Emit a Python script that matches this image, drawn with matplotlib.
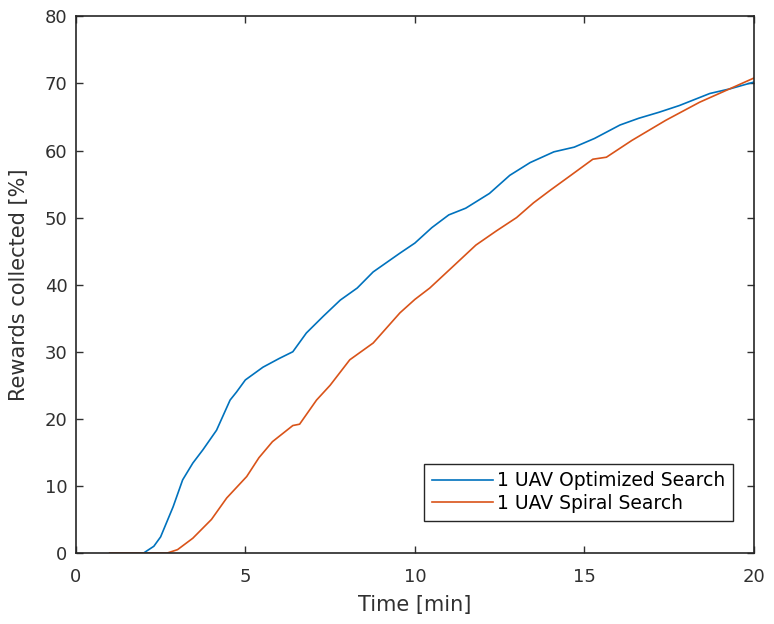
import numpy as np
import matplotlib.pyplot as plt

# values
t_opt = [1, 2, 2.3, 2.5, 2.87, 3.15, 3.45, 3.75, 4.15, 4.55, 4.74, 5.0, 5.52, 6.0, 6.4, 6.8,
         7.3, 7.8, 8.3, 8.77, 9.56, 10.0, 10.5, 11.0, 11.5, 12.2, 12.8, 13.4, 14.1, 14.7,
         15.3, 16.05, 16.6, 17.2, 17.8, 18.7, 19.3, 20.0]
opt = [0, 0, 1, 2.4, 6.9, 10.9, 13.4, 15.4, 18.3, 22.8, 24, 25.8, 27.7, 29, 30, 32.8,
       35.3, 37.7, 39.5, 41.9, 44.7, 46.2, 48.5, 50.4, 51.4, 53.6, 56.3, 58.2, 59.8, 60.5,
       61.8, 63.8, 64.8, 65.7, 66.7, 68.5, 69.2, 70.2]

t_spi = [1, 2.7, 3.0, 3.45, 4.0, 4.45, 5.04, 5.4, 5.8, 6.4, 6.6, 7.1, 7.5, 8.08, 8.77,
         9.56, 10.0, 10.44, 11.1, 11.8, 12.4, 13.0, 13.5, 14.0, 14.6, 15.25, 15.65, 16.4,
         17.4, 18.4, 19.2, 20.0]
spi = [0, 0, 0.5, 2.2, 5.0, 8.2, 11.4, 14.2, 16.6, 19.0, 19.2, 22.8, 25.0, 28.8, 31.3,
       35.8, 37.8, 39.5, 42.6, 45.9, 48.0, 50.0, 52.2, 54.1, 56.3, 58.7, 59.0, 61.5,
       64.5, 67.2, 69.0, 70.8]

plt.rcParams['font.family'] = 'DejaVu Sans'
fig = plt.figure(figsize=(7.74, 6.24), dpi=100)
ax = fig.add_axes([0.098, 0.1138, 0.876, 0.86])

ax.plot(t_opt, opt, color='#0072BD', lw=1.2, label='1 UAV Optimized Search')
ax.plot(t_spi, spi, color='#D95319', lw=1.2, label='1 UAV Spiral Search')

ax.set_xlim(0, 20)
ax.set_ylim(0, 80)
ax.set_xticks([0, 5, 10, 15, 20])
ax.set_yticks(range(0, 81, 10))
ax.tick_params(direction='in', top=True, right=True, length=5, width=1,
               labelsize=13, colors='#303030', pad=6)
ax.tick_params(axis='x', pad=11)
for s in ax.spines.values():
    s.set_color('#262626')
    s.set_linewidth(1.2)

ax.set_xlabel('Time [min]', fontsize=15, color='#303030', labelpad=6)
ax.set_ylabel('Rewards collected [%]', fontsize=15, color='#303030', labelpad=11)

leg = ax.legend(loc='lower right', bbox_to_anchor=(0.983, 0.043), fontsize=13.5,
                fancybox=False, edgecolor='#262626', framealpha=1,
                handlelength=3.3, handletextpad=0.2, borderpad=0.4, labelspacing=0.2)
leg.get_frame().set_linewidth(1)

fig.savefig('out.png', dpi=100)
